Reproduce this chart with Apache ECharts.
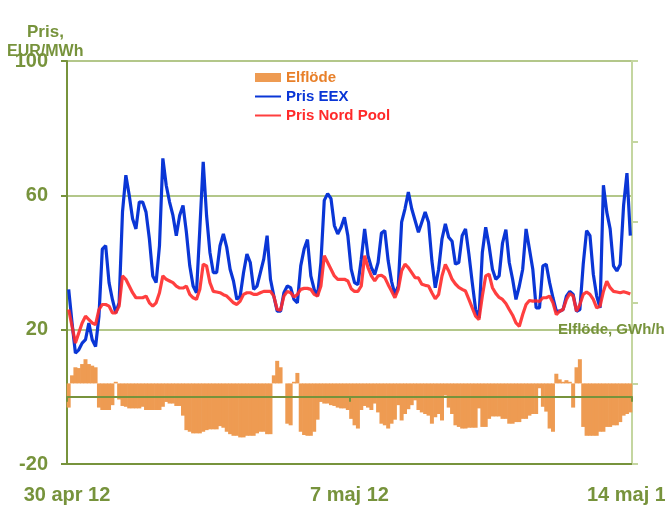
<!DOCTYPE html>
<html>
<head>
<meta charset="utf-8">
<script src="https://cdn.jsdelivr.net/npm/echarts@6/dist/echarts.min.js"></script>
<style>
  html, body { margin: 0; padding: 0; background: #fff; }
  #chart { width: 665px; height: 507px; }
</style>
</head>
<body>
<div id="chart"></div>
<script>
// tick labels on the time axis (one per week)
const dateLabels = ['30 apr 12', '7 maj 12', '14 maj 12']

// prices, EUR/MWh, one value per 2 hours from 30 apr 00:00
const eex = [
  32, 22, 13, 14, 16, 17, 22, 17, 15, 24,
  44, 45, 34, 29, 25, 28, 55, 66, 60, 53,
  50, 58, 58, 55, 47, 36, 34, 45, 71, 63,
  58, 54, 48, 54, 57, 49, 39, 33, 31, 50,
  70, 54, 43,
  37, 37, 45, 48.5, 44.5, 38, 34.5, 29, 30, 37,
  42.5, 40, 32, 33, 37, 41, 48, 35, 30, 25.5,
  25.5, 31, 33, 32.5, 29, 28, 39, 44, 46.8, 36,
  32, 30, 40, 58.5, 60.5, 59, 51, 48.5, 50.5, 53.5,
  48, 38, 34,
  33.4, 41, 50, 42, 38.5, 36.4, 40, 48.8, 49.5, 40.5,
  34.4, 30.5, 33, 52, 56, 61, 56, 52.5, 49, 52,
  55, 52, 40.5, 32.5, 38, 47, 51.5, 47.5, 46.3, 39.5,
  40, 48, 50, 42.5, 34, 26, 23.5, 43, 50.5, 45,
  38, 35, 36,
  45.8, 49.8, 40, 35, 29, 33, 38, 50, 44, 38,
  26.5, 26.5, 39, 39.5, 34, 29.5, 25.5, 25.5, 26, 30,
  31.4, 30.5, 25.5, 26, 39.5, 49.5, 48, 36.5, 30, 26.5,
  63, 55, 50, 39, 37.5, 39.4, 57, 66.6, 48
]

const nordPool = [
  26, 21, 16, 19, 22, 24, 23, 22, 21.5, 26,
  27.5, 27.5, 27, 25, 25, 27, 36, 35, 33, 31,
  29.5, 29.5, 29.5, 30, 28, 27, 28, 31, 36, 35,
  34.5, 34, 33, 32.4, 32.4, 33, 30.5, 29.5, 29, 32,
  39.5, 39, 34,
  31.4, 31.2, 31, 30.4, 30, 29, 28, 27.5, 28.5, 30.5,
  31, 31, 30.5, 30.5, 31, 31.4, 31.4, 31.4, 30, 26,
  25.8, 30, 31.4, 31, 29.7, 30.5, 32, 32.3, 32.3, 32,
  30.5, 30, 33, 42, 40, 38, 36, 35, 35, 35,
  34.5, 32.2, 31.4,
  31.4, 33, 42, 38.5, 36, 34.5, 36, 36.2, 35.5, 33.4,
  31.5, 29.5, 32, 37.5, 39.5, 38.5, 37, 35.5, 35.4, 33.5,
  33.2, 33, 31, 29.2, 30.5, 36, 39.4, 37.5, 35, 33.6,
  32.6, 32, 31.5, 29, 26.5, 24, 23, 30, 36, 36.5,
  32.5, 30.8, 29.6,
  29, 27.8, 26, 24.3, 22, 21, 24.5, 27.5, 28.7, 28.5,
  28.6, 28.4, 29.5, 29.5, 30, 28, 24.5, 25.5, 26, 29,
  30.8, 30, 25.5, 27.5, 30.5, 31.2, 30.5, 29, 26.5, 27,
  31.4, 34.4, 32.5, 31.4, 31.2, 31, 31.3, 31, 30.6
]

// Elflöde, GWh/h (right axis)
const flow = [
  -0.3, 0.1, 0.2, 0.19, 0.24, 0.3, 0.24, 0.22, 0.2, -0.3,
  -0.33, -0.33, -0.33, -0.27, 0.02, -0.2, -0.28, -0.29, -0.31, -0.31,
  -0.31, -0.31, -0.29, -0.33, -0.33, -0.33, -0.33, -0.33, -0.29, -0.23,
  -0.25, -0.25, -0.28, -0.28, -0.4, -0.58, -0.6, -0.62, -0.62, -0.62,
  -0.6, -0.58, -0.57, -0.57, -0.57, -0.53, -0.55, -0.6, -0.63, -0.65,
  -0.65, -0.67, -0.67, -0.65, -0.65, -0.65, -0.62, -0.6, -0.6, -0.63,
  -0.63, 0.1, 0.28, 0.2, 0.0, -0.5, -0.52, 0.02, 0.13, -0.6,
  -0.64, -0.65, -0.65, -0.6, -0.45, -0.23, -0.25, -0.25, -0.27, -0.28,
  -0.3, -0.31, -0.31, -0.33,
  -0.44, -0.52, -0.56, -0.33, -0.28, -0.3, -0.33, -0.25, -0.36, -0.5,
  -0.52, -0.56, -0.5, -0.45, -0.27, -0.46, -0.38, -0.32, -0.27, -0.21,
  -0.33, -0.36, -0.38, -0.4, -0.5, -0.42, -0.38, -0.46, -0.15, -0.3,
  -0.38, -0.52, -0.54, -0.56, -0.56, -0.55, -0.55, -0.55, -0.31, -0.54,
  -0.54, -0.44, -0.41, -0.41, -0.41, -0.44, -0.44, -0.5, -0.5, -0.48,
  -0.48, -0.44, -0.44, -0.4, -0.38, -0.38, -0.06, -0.29, -0.35, -0.56,
  -0.6, 0.12, 0.05, 0.02, 0.04, 0.02, -0.3, 0.2, 0.3, -0.54,
  -0.65, -0.65, -0.65, -0.65, -0.6, -0.6, -0.54, -0.54, -0.52, -0.52,
  -0.48, -0.4, -0.38, -0.36
]

const olive = '#77933C'
const lightOlive = '#B3C78A'
const font = 'Liberation Sans'

// each value covers 2 hours, placed at the middle of its slot
const toPairs = (arr) => arr.map((v, i) => [i * 2 + 1, v])

const chart = echarts.init(document.getElementById('chart'))

const label = (text, left, top, size) => ({
  text: text,
  left: left,
  top: top,
  padding: 0,
  textStyle: { color: olive, fontFamily: font, fontWeight: 'bold', fontSize: size },
})

const option = {
  animation: false,
  title: [
    label('Pris,', 27, 24, 17),
    label('EUR/MWh', 7, 44, 16),
    label('Elflöde, GWh/h', 558, 322, 15),
  ],
  grid: { left: 67, right: 33, top: 61, bottom: 43, outerBoundsMode: 'none' },
  legend: {
    orient: 'vertical',
    left: 249,
    top: 65,
    itemWidth: 26,
    itemHeight: 9,
    itemGap: 4,
    textStyle: { fontFamily: font, fontWeight: 'bold', fontSize: 15 },
    data: [
      { name: 'Elflöde', icon: 'rect', textStyle: { color: '#E8802A' } },
      { name: 'Pris EEX', itemStyle: { opacity: 0 }, textStyle: { color: '#0A36D6' } },
      { name: 'Pris Nord Pool', itemStyle: { opacity: 0 }, textStyle: { color: '#FF2A2A' } },
    ],
  },
  xAxis: [
    {
      type: 'value',
      min: 0,
      max: 336,
      interval: 168,
      position: 'bottom',
      axisLine: { onZero: false, lineStyle: { color: olive, width: 2 } },
      axisTick: { show: false },
      splitLine: { show: false },
      axisLabel: {
        color: olive,
        fontFamily: font,
        fontWeight: 'bold',
        fontSize: 20,
        margin: 21,
        formatter: (v) => dateLabels[v / 168],
      },
    },
    {
      // the zero line with its week ticks
      type: 'value',
      min: 0,
      max: 336,
      interval: 168,
      position: 'top',
      z: 5,
      axisLine: { onZero: true, onZeroAxisIndex: 0, lineStyle: { color: olive, width: 2 } },
      axisTick: { show: true, inside: true, length: 5, lineStyle: { color: olive, width: 2 } },
      axisLabel: { show: false },
      splitLine: { show: false },
    },
  ],
  yAxis: [
    {
      type: 'value',
      min: -20,
      max: 100,
      interval: 40,
      axisLine: { show: true, onZero: false, lineStyle: { color: olive, width: 2 } },
      axisTick: { show: true, length: 6, lineStyle: { color: olive, width: 2 } },
      axisLabel: { color: olive, fontFamily: font, fontWeight: 'bold', fontSize: 20, margin: 19 },
      splitLine: { lineStyle: { color: lightOlive, width: 2 } },
    },
    {
      type: 'value',
      min: -1,
      max: 4,
      interval: 1,
      position: 'right',
      axisLine: { show: true, onZero: false, lineStyle: { color: '#C4D6A0', width: 2 } },
      axisTick: { show: true, length: 6, lineStyle: { color: '#C4D6A0', width: 2 } },
      axisLabel: { show: false },
      splitLine: { show: false },
    },
  ],
  series: [
    {
      name: 'Elflöde',
      type: 'bar',
      xAxisIndex: 0,
      yAxisIndex: 1,
      barWidth: 4,
      itemStyle: { color: '#EE9B52' },
      data: toPairs(flow),
    },
    {
      name: 'Pris EEX',
      type: 'line',
      xAxisIndex: 0,
      yAxisIndex: 0,
      symbol: 'none',
      lineStyle: { color: '#0A36D6', width: 3.2 },
      itemStyle: { color: '#0A36D6' },
      data: toPairs(eex),
    },
    {
      name: 'Pris Nord Pool',
      type: 'line',
      xAxisIndex: 0,
      yAxisIndex: 0,
      symbol: 'none',
      lineStyle: { color: '#FF2A2A', width: 3.2, opacity: 0.9 },
      itemStyle: { color: '#FF2A2A' },
      data: toPairs(nordPool),
    },
  ],
}

chart.setOption(option)
</script>
</body>
</html>
